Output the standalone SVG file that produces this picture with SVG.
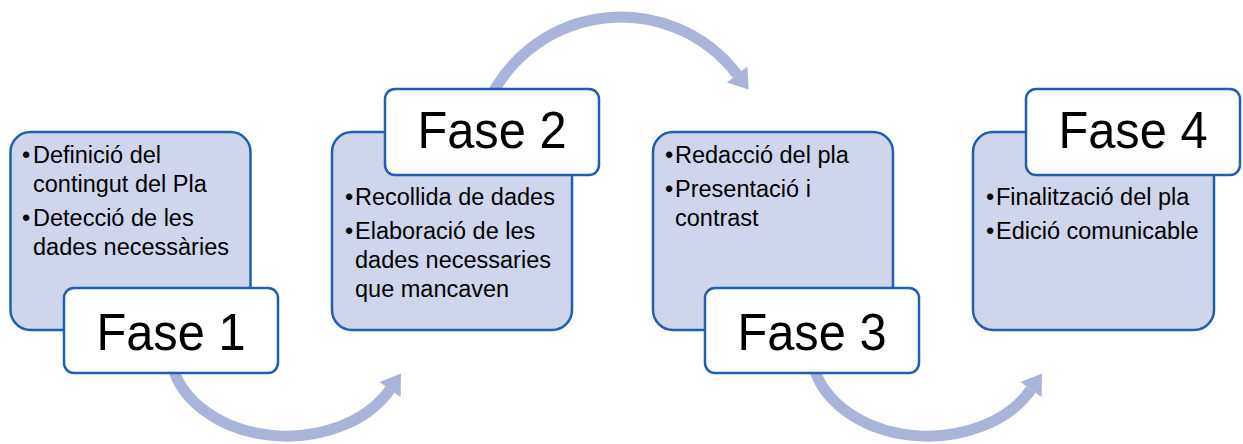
<svg xmlns="http://www.w3.org/2000/svg" width="1243" height="444" viewBox="0 0 1243 444">
  <style>
    .panel { fill: #cfd5ea; stroke: #1f5fad; stroke-width: 2.5; }
    .label { fill: #ffffff; stroke: #1f5fad; stroke-width: 2.5; }
    .arc { fill: none; stroke: #aab3d9; stroke-width: 11; }
    .head { fill: #aab3d9; }
    .bul { font-family: "Liberation Sans", Arial, sans-serif; font-size: 23.5px; fill: #000000; }
    .title { font-family: "Liberation Sans", Arial, sans-serif; font-size: 52px; fill: #000000; text-anchor: middle; }
  </style>
  <rect width="1243" height="444" fill="#ffffff"/>

  <g id="connectors">
    <g id="arrow-1-2">
      <path class="arc" d="M 172.3 365.1 A 116.5 87 0 0 0 390 389.5"/>
      <polygon class="head" points="401,373.5 400.6,397 379.4,382"/>
    </g>
    <g id="arrow-2-3">
      <path class="arc" d="M 483.8 113.1 A 146 146 0 0 1 737.1 74.5"/>
      <polygon class="head" points="748.6,89.6 747.4,66.6 726.8,82.4"/>
    </g>
    <g id="arrow-3-4">
      <path class="arc" d="M 813.3 365.1 A 116.5 87 0 0 0 1031 389.5"/>
      <polygon class="head" points="1042,373.5 1041.6,397 1020.4,382"/>
    </g>
  </g>

  <g id="fase1">
    <rect class="panel" x="10.5" y="132" width="240" height="198" rx="20"/>
    <text class="bul" y="163"><tspan x="22">•</tspan><tspan x="33">Definició del</tspan></text>
    <text class="bul" x="33" y="192">contingut del Pla</text>
    <text class="bul" y="226"><tspan x="22">•</tspan><tspan x="33">Detecció de les</tspan></text>
    <text class="bul" x="33" y="255">dades necessàries</text>
    <rect class="label" x="64" y="288" width="214" height="85" rx="10"/>
    <text class="title" x="171" y="350" textLength="149" lengthAdjust="spacingAndGlyphs">Fase 1</text>
  </g>

  <g id="fase2">
    <rect class="panel" x="332" y="132" width="240" height="198" rx="20"/>
    <text class="bul" y="205"><tspan x="345">•</tspan><tspan x="355">Recollida de dades</tspan></text>
    <text class="bul" y="239"><tspan x="345">•</tspan><tspan x="355">Elaboració de les</tspan></text>
    <text class="bul" x="355" y="268">dades necessaries</text>
    <text class="bul" x="355" y="297">que mancaven</text>
    <rect class="label" x="385" y="89" width="214" height="86" rx="10"/>
    <text class="title" x="492" y="148" textLength="149" lengthAdjust="spacingAndGlyphs">Fase 2</text>
  </g>

  <g id="fase3">
    <rect class="panel" x="653" y="132" width="240" height="198" rx="20"/>
    <text class="bul" y="163"><tspan x="665">•</tspan><tspan x="675">Redacció del pla</tspan></text>
    <text class="bul" y="197"><tspan x="665">•</tspan><tspan x="675">Presentació i</tspan></text>
    <text class="bul" x="675" y="226">contrast</text>
    <rect class="label" x="705" y="288" width="214" height="85" rx="10"/>
    <text class="title" x="812" y="350" textLength="149" lengthAdjust="spacingAndGlyphs">Fase 3</text>
  </g>

  <g id="fase4">
    <rect class="panel" x="973" y="132" width="241" height="198" rx="20"/>
    <text class="bul" y="205"><tspan x="986">•</tspan><tspan x="996">Finalització del pla</tspan></text>
    <text class="bul" y="239"><tspan x="986">•</tspan><tspan x="996">Edició comunicable</tspan></text>
    <rect class="label" x="1026" y="89" width="214" height="86" rx="10"/>
    <text class="title" x="1133" y="148" textLength="149" lengthAdjust="spacingAndGlyphs">Fase 4</text>
  </g>
</svg>
